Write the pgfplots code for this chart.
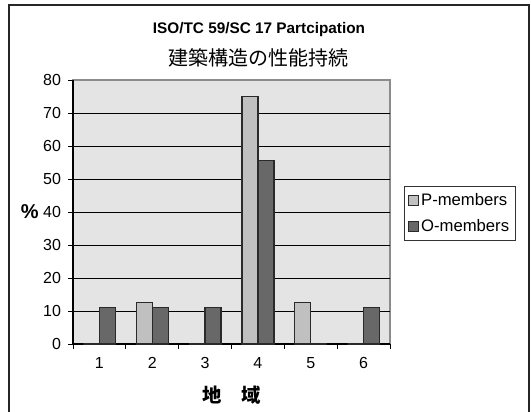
\documentclass[border=0pt]{standalone}
\usepackage{pgfplots}
\pgfplotsset{compat=1.18}
\usepackage{fontspec}
\setmainfont{Liberation Sans}
\newfontfamily\cjk{Noto Sans CJK JP}
\definecolor{plotbg}{HTML}{E4E4E4}
\definecolor{pcol}{HTML}{C0C0C0}
\definecolor{ocol}{HTML}{686868}
\definecolor{edge}{HTML}{2A2A2A}
\begin{document}
\begin{tikzpicture}
\useasboundingbox (0,0) rectangle (398.25pt,308.25pt);
\draw[line width=1pt, color=black!85] (6.75pt,-20pt) -- (6.75pt,304.5pt) -- (396.75pt,304.5pt) -- (396.75pt,-20pt);
\node[font=\bfseries\fontsize{11.5}{13}\selectfont] at (194.25pt,285.75pt) {ISO/TC 59/SC 17 Partcipation};
\node[font=\cjk\fontsize{15}{17}\selectfont] at (193.5pt,264.75pt) {建築構造の性能持続};
\begin{axis}[
  at={(54.75pt,50.25pt)}, anchor=south west,
  scale only axis, width=237.75pt, height=198pt,
  ybar=0pt, bar width=12pt,
  xmin=0.5, xmax=6.5, ymin=0, ymax=80,
  xtick={1,2,3,4,5,6},
  minor xtick={0.5,1.5,2.5,3.5,4.5,5.5,6.5},
  major x tick style={draw=none},
  minor tick length=3.5pt, major tick length=3.5pt,
  ytick={0,10,20,30,40,50,60,70},
  extra y ticks={80}, extra y tick style={grid=none},
  ymajorgrids, grid style={black, line width=0.6pt},
  tick align=outside, tick pos=left,
  tick style={black, line width=0.6pt},
  axis lines*=left,
  axis line style={black, line width=0.8pt, -},
  axis background/.style={fill=plotbg, draw=black!45, line width=1.2pt},
  ticklabel style={font=\fontsize{12}{14}\selectfont},
  /pgf/number format/assume math mode=true,
  xticklabel style={yshift=-3pt},
  yticklabel style={xshift=-2pt},
  ylabel={\%},
  ylabel style={rotate=-90, at={(rel axis cs:-0.136,0.5)}, anchor=center, font=\bfseries\fontsize{15}{17}\selectfont},
  xlabel={地\hspace{1em}域},
  xlabel style={at={(rel axis cs:0.5,-0.193)}, anchor=center, font=\cjk\bfseries\fontsize{14.5}{16}\selectfont},
  area legend,
  legend image code/.code={\draw[#1, line width=0.6pt] (0pt,-3.5pt) rectangle (7pt,3.5pt);},
  legend style={at={(rel axis cs:1.044,0.598)}, anchor=north west,
    draw=black!80, line width=0.6pt, font=\fontsize{12.5}{14}\selectfont,
    inner xsep=3pt, inner ysep=3pt, row sep=5pt,
    legend cell align=left},
]
\addplot[fill=pcol, draw=edge, line width=1pt] coordinates {(1,0) (2,12.5) (3,0) (4,75) (5,12.5) (6,0)};
\addplot[fill=ocol, draw=edge, line width=1pt] coordinates {(1,11.1) (2,11.1) (3,11.1) (4,55.6) (5,0) (6,11.1)};
\legend{P-members,O-members}
\end{axis}
\end{tikzpicture}
\end{document}
